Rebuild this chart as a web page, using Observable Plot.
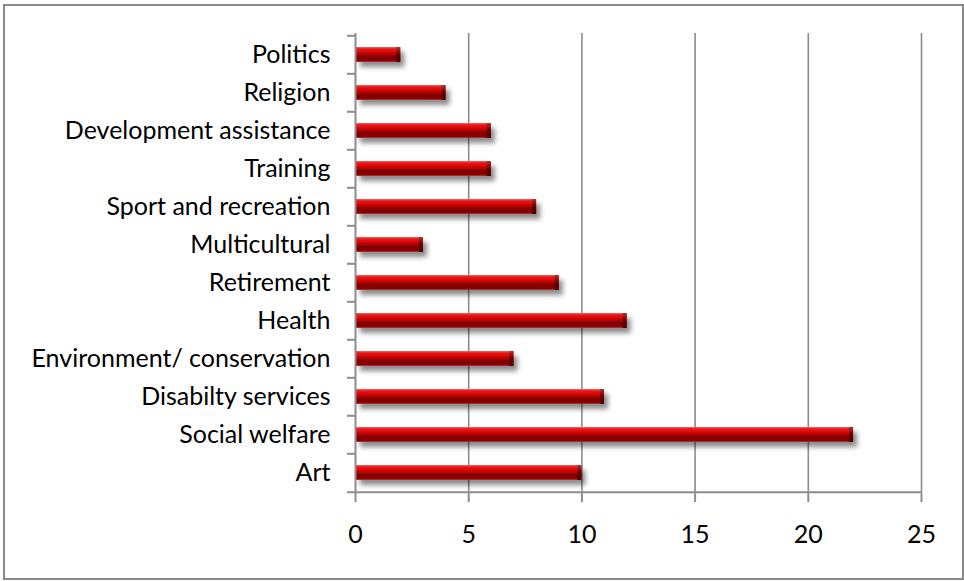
<!DOCTYPE html>
<html>
<head>
<meta charset="utf-8">
<script src="https://cdn.jsdelivr.net/npm/d3@7"></script>
<script src="https://cdn.jsdelivr.net/npm/@observablehq/plot@0.6"></script>
<style>
  html, body { margin: 0; padding: 0; background: #fff; }
  #wrap { position: relative; width: 964px; height: 581px; }
  #border { position: absolute; left: 3px; top: 4px; width: 957px; height: 572px; border: 2px solid #8a8a8a; box-sizing: content-box; pointer-events: none; }
  #chart { position: absolute; left: 0; top: 0; }
</style>
</head>
<body>
<div id="wrap"><div id="chart"></div><div id="border"></div></div>
<script>
const categories = ["Politics", "Religion", "Development assistance", "Training", "Sport and recreation", "Multicultural", "Retirement", "Health", "Environment/ conservation", "Disabilty services", "Social welfare", "Art"];
const values = [2, 4, 6, 6, 8, 3, 9, 12, 7, 11, 22, 10];
const xTicks = [0, 5, 10, 15, 20, 25];

const data = categories.map((c, i) => ({category: c, value: values[i]}));

const W = 964, H = 581;
const mTop = 33, mBottom = 87, mLeft = 355, mRight = 43;
const step = (H - mTop - mBottom) / categories.length;

const defs = () => {
  const d = d3.create("svg:defs");
  const g = d.append("linearGradient").attr("id", "barGrad").attr("x1", 0).attr("y1", 0).attr("x2", 0).attr("y2", 1);
  [[0, "#f26a6a"], [0.12, "#ea1a1a"], [0.38, "#d80000"], [0.5, "#a40808"], [0.72, "#7c0000"], [0.9, "#8a0606"], [1, "#b83a3a"]]
    .forEach(([o, c]) => g.append("stop").attr("offset", o).attr("stop-color", c));
  const e = d.append("linearGradient").attr("id", "capGrad").attr("x1", 0).attr("y1", 0).attr("x2", 0).attr("y2", 1);
  [[0, "#b03030"], [0.5, "#6a0000"], [1, "#4a0000"]]
    .forEach(([o, c]) => e.append("stop").attr("offset", o).attr("stop-color", c));
  const f = d.append("filter").attr("id", "shadow").attr("x", "-10%").attr("y", "-50%").attr("width", "130%").attr("height", "250%");
  f.append("feGaussianBlur").attr("in", "SourceAlpha").attr("stdDeviation", 2.5).attr("result", "blur");
  f.append("feOffset").attr("in", "blur").attr("dx", 4).attr("dy", 5).attr("result", "off");
  f.append("feFlood").attr("flood-color", "#000").attr("flood-opacity", 0.45).attr("result", "col");
  f.append("feComposite").attr("in", "col").attr("in2", "off").attr("operator", "in").attr("result", "sh");
  const m = f.append("feMerge");
  m.append("feMergeNode").attr("in", "sh");
  m.append("feMergeNode").attr("in", "SourceGraphic");
  return d.node();
};

const chart = Plot.plot({
  width: W,
  height: H,
  marginTop: mTop,
  marginBottom: mBottom,
  marginLeft: mLeft,
  marginRight: mRight,
  style: {fontFamily: "Lato, 'Open Sans', sans-serif", fontSize: "25px", color: "#000", background: "transparent"},
  x: {domain: [0, 25], ticks: xTicks},
  y: {domain: categories, paddingInner: 0.6, paddingOuter: 0.3},
  marks: [
    defs,
    Plot.ruleX(xTicks.slice(1), {stroke: "#8c8c8c", strokeWidth: 1.6, strokeOpacity: 1}),
    Plot.barX(data, {y: "category", x: "value", fill: "url(#barGrad)", insetLeft: 1, render: (i, s, v, d, ctx, next) => { const g = next(i, s, v, d, ctx); g.setAttribute("filter", "url(#shadow)"); return g; }}),
    Plot.barX(data, {y: "category", x1: "value", x2: "value", insetLeft: -4, fill: "url(#capGrad)"}),
    Plot.ruleX([0], {stroke: "#8c8c8c", strokeWidth: 2, strokeOpacity: 1}),
    Plot.ruleY(categories, {y: d => d, x1: 0, x2: 0, insetLeft: -8, dy: -step / 2, stroke: "#8c8c8c", strokeWidth: 2, strokeOpacity: 1}),
    Plot.ruleY(categories.slice(-1), {y: d => d, x1: 0, x2: 25, insetLeft: -8, dy: step / 2, stroke: "#8c8c8c", strokeWidth: 2, strokeOpacity: 1}),
    Plot.axisX({ticks: xTicks, tickSize: 8, tickPadding: 23, stroke: "#8c8c8c", strokeWidth: 2, strokeOpacity: 1, fill: "#000", fontSize: 25, label: null}),
    Plot.axisY({tickSize: 0, tickPadding: 25, fill: "#000", fontSize: 25, label: null})
  ]
});
document.getElementById("chart").appendChild(chart);
</script>
</body>
</html>
